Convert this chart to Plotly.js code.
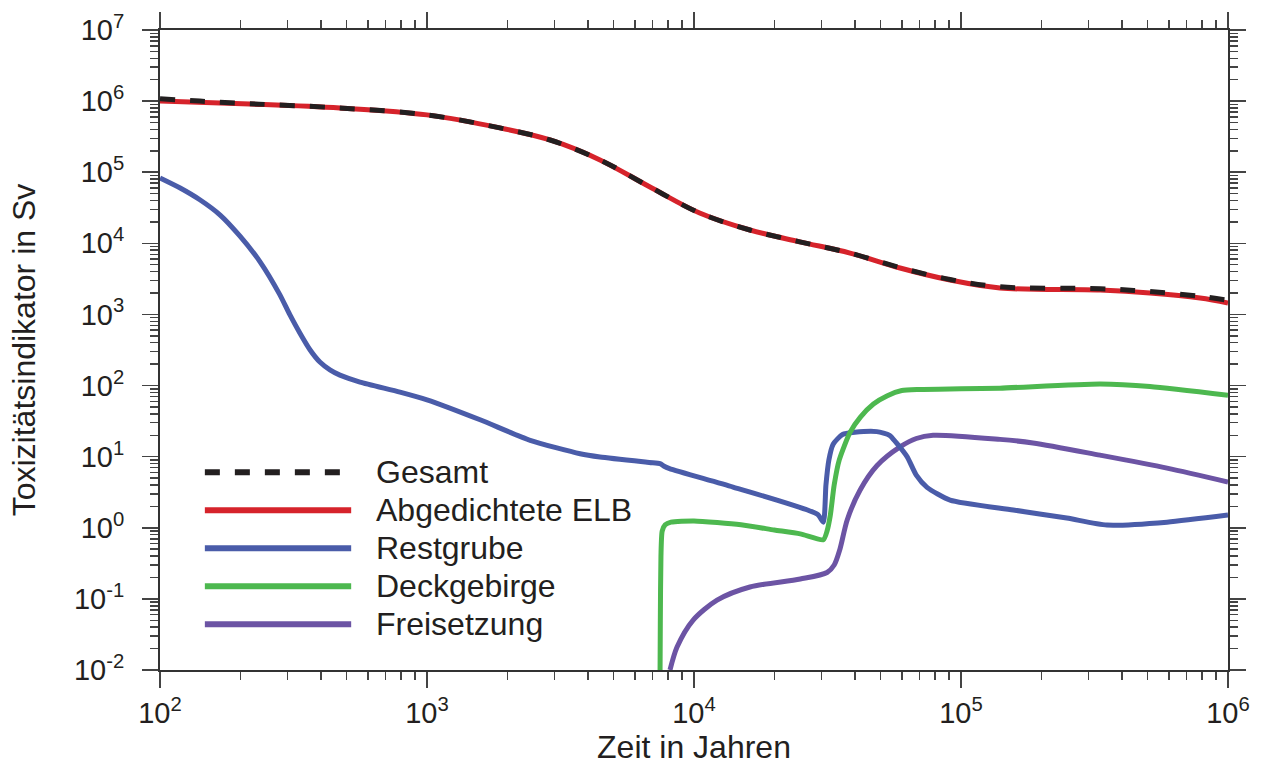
<!DOCTYPE html>
<html>
<head>
<meta charset="utf-8">
<script src="https://cdn.plot.ly/plotly-3.0.1.min.js"></script>
<style>
  html, body { margin: 0; padding: 0; background: #ffffff; }
  #chart { width: 1262px; height: 769px; }
</style>
</head>
<body>
<div id="chart"></div>
<script>
// Series names, in legend order
const seriesNames = ["Gesamt", "Abgedichtete ELB", "Restgrube", "Deckgebirge", "Freisetzung"];

// Time in years / toxicity indicator in Sv for each series
const tGesamt = [100, 141, 217, 472, 1000, 1875, 2890, 4446, 6842, 10500, 16200, 24900, 38400, 59100, 91000, 140000, 332000, 510000, 786000, 1000000];
const vGesamt = [1.08e6, 1.0e6, 9.2e5, 8.0e5, 6.4e5, 4.2e5, 2.84e5, 1.49e5, 6.2e4, 2.67e4, 1.54e4, 1.05e4, 7.3e3, 4.55e3, 3.1e3, 2.45e3, 2.3e3, 2.1e3, 1.8e3, 1.58e3];

const tELB = [100, 217, 472, 1000, 1875, 2890, 4446, 6842, 10500, 16200, 24900, 38400, 59100, 91000, 140000, 332000, 510000, 786000, 1000000];
const vELB = [1.0e6, 9.1e5, 8.0e5, 6.4e5, 4.2e5, 2.84e5, 1.49e5, 6.2e4, 2.67e4, 1.54e4, 1.05e4, 7.3e3, 4.5e3, 3.05e3, 2.36e3, 2.2e3, 2.0e3, 1.7e3, 1.45e3];

const tRestgrube = [100, 119, 141, 168, 199, 237, 281, 306, 334, 365, 397, 433, 472, 561, 792, 1000, 1581, 2434, 3745, 4446, 6800, 7460, 7700, 8100, 14000, 29000, 30500, 31200, 32000, 33200, 36000, 40000, 48400, 54000, 57000, 62800, 68000, 74600, 91000, 157000, 249000, 352000, 591000, 1000000];
const vRestgrube = [8.3e4, 6.0e4, 4.1e4, 2.5e4, 1.27e4, 5.5e3, 1.9e3, 1.0e3, 548, 316, 214, 166, 140, 112, 81, 63, 33, 17, 11, 9.9, 8.3, 8.0, 7.4, 6.8, 3.74, 1.55, 1.2, 4.0, 9.0, 15, 20.5, 22, 22.5, 20, 16, 10, 5.5, 3.7, 2.45, 1.78, 1.37, 1.09, 1.2, 1.51];

const tDeckgebirge = [7450, 7480, 7520, 7600, 7800, 8200, 10000, 15000, 20000, 25000, 30500, 31500, 32400, 33500, 35000, 38400, 42000, 47000, 53000, 60000, 70000, 100000, 140000, 332000, 510000, 1000000];
const vDeckgebirge = [0.003, 0.05, 0.4, 0.9, 1.1, 1.2, 1.25, 1.1, 0.93, 0.82, 0.68, 0.9, 1.5, 4.0, 9.0, 22, 36, 55, 72, 85, 88, 90, 92, 105, 97, 73];

const tFreisetzung = [8130, 8640, 9910, 12200, 16200, 25000, 31500, 33500, 35200, 37500, 41900, 48500, 59100, 68000, 78600, 140000, 186000, 332000, 591000, 1000000];
const vFreisetzung = [0.01, 0.021, 0.05, 0.096, 0.147, 0.19, 0.235, 0.3, 0.5, 1.3, 3.4, 7.5, 13.7, 18, 20, 17.5, 15.6, 10.5, 6.9, 4.4];

// Axis tick positions and labels
const xTickVals = [1e2, 1e3, 1e4, 1e5, 1e6];
const xTickText = ["10<sup>2</sup>", "10<sup>3</sup>", "10<sup>4</sup>", "10<sup>5</sup>", "10<sup>6</sup>"];
const yTickVals = [1e-2, 1e-1, 1e0, 1e1, 1e2, 1e3, 1e4, 1e5, 1e6, 1e7];
const yTickText = ["10<sup>-2</sup>", "10<sup>-1</sup>", "10<sup>0</sup>", "10<sup>1</sup>", "10<sup>2</sup>",
                   "10<sup>3</sup>", "10<sup>4</sup>", "10<sup>5</sup>", "10<sup>6</sup>", "10<sup>7</sup>"];

const colors = {
  "Gesamt": "#231f20",
  "Abgedichtete ELB": "#d6232b",
  "Restgrube": "#4a5ca9",
  "Deckgebirge": "#4db84f",
  "Freisetzung": "#6c54a4"
};
const dashes = { "Gesamt": "15px,15px" };
const LW = 5;
const FONT = "Liberation Sans, Arial, Helvetica, sans-serif";
const TEXT = "#231f20";

function line(name, x, y, smoothing) {
  return {
    type: "scatter", mode: "lines", name: name, x: x, y: y,
    line: { color: colors[name], width: LW, dash: dashes[name] || "solid",
            shape: "spline", smoothing: smoothing },
    showlegend: false, hoverinfo: "x+y+name"
  };
}

const traces = [
  line("Abgedichtete ELB", tELB, vELB, 1.0),
  line("Gesamt", tGesamt, vGesamt, 1.0),
  line("Freisetzung", tFreisetzung, vFreisetzung, 0.8),
  line("Restgrube", tRestgrube, vRestgrube, 0.6),
  line("Deckgebirge", tDeckgebirge, vDeckgebirge, 0.6)
];

// Legend drawn inside the plot area: sample line + label per series
const legendX0 = 0.042, legendX1 = 0.179, legendTextX = 0.2005;
const legendTop = 0.309, legendStep = 0.0594;
const shapes = [];
const annotations = [];
seriesNames.forEach((name, i) => {
  const yy = legendTop - i * legendStep;
  shapes.push({
    type: "line", xref: "paper", yref: "paper",
    x0: legendX0, x1: legendX1, y0: yy, y1: yy,
    line: { color: colors[name], width: 6, dash: dashes[name] || "solid" }
  });
  annotations.push({
    xref: "paper", yref: "paper", x: legendTextX, y: yy,
    xanchor: "left", yanchor: "middle", showarrow: false,
    text: name, font: { family: FONT, size: 32, color: TEXT }
  });
});

const axisCommon = {
  type: "log",
  tickmode: "array",
  ticks: "outside", ticklen: 16, tickwidth: 1.5, tickcolor: "#444",
  showline: true, linewidth: 2, linecolor: "#333",
  mirror: "ticks",
  showgrid: false, zeroline: false,
  tickfont: { family: FONT, size: 29, color: TEXT },
  minor: { ticks: "outside", ticklen: 8, tickwidth: 1.5, tickcolor: "#444", dtick: "D1", showgrid: false }
};

const layout = {
  width: 1262, height: 769,
  margin: { l: 160, r: 34, t: 30, b: 99, pad: 0 },
  paper_bgcolor: "#ffffff", plot_bgcolor: "#ffffff",
  font: { family: FONT, color: TEXT },
  showlegend: false,
  xaxis: Object.assign({}, axisCommon, {
    range: [2, 6], tickvals: xTickVals, ticktext: xTickText,
    title: { text: "Zeit in Jahren", font: { family: FONT, size: 32, color: TEXT }, standoff: 4 }
  }),
  yaxis: Object.assign({}, axisCommon, {
    range: [-2, 7], tickvals: yTickVals, ticktext: yTickText,
    ticklabelstandoff: 12,
    title: { text: "Toxizitätsindikator in Sv", font: { family: FONT, size: 32, color: TEXT }, standoff: 29 }
  }),
  shapes: shapes,
  annotations: annotations
};

Plotly.newPlot("chart", traces, layout, { displayModeBar: false, staticPlot: true });
</script>
</body>
</html>
